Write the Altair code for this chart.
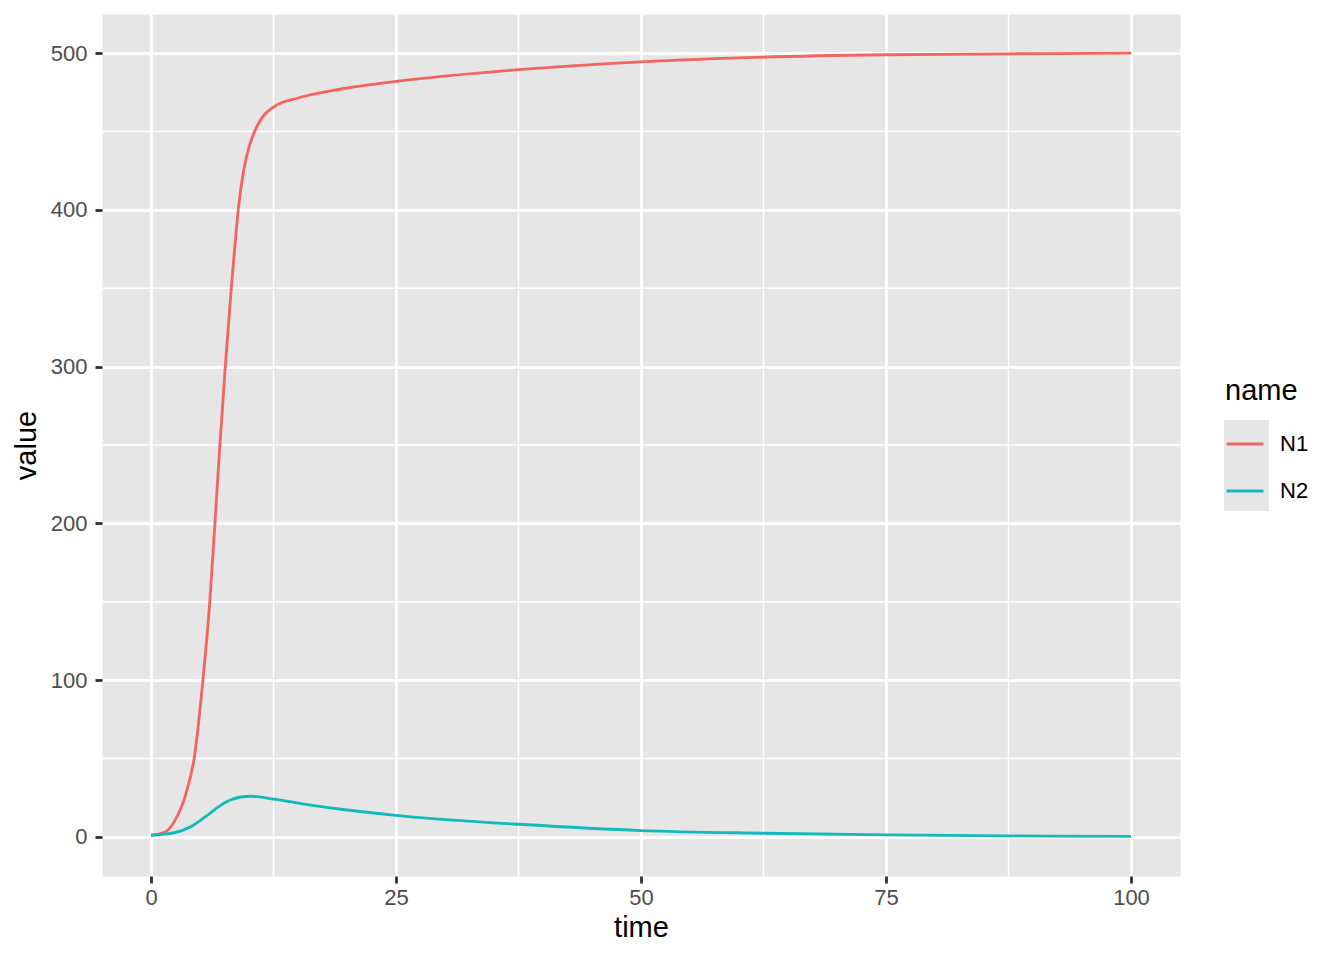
import altair as alt
import pandas as pd

# ---- data ----
n1_time = [0, 1.5, 2.4, 3.57, 4.4, 5.3, 6.0, 6.52, 7.03, 7.58, 8.19, 8.7, 8.9, 9.45, 10.0, 10.5, 11.4, 12.6, 15.0, 19.3, 25, 37.5, 50, 62.5, 75, 87.5, 100]
n1_value = [1, 3.2, 10, 27.6, 50, 100, 150, 200, 250, 300, 350, 387, 400, 425, 440, 449, 459.5, 466, 471.4, 477, 482, 489.5, 494.5, 497.5, 499, 499.6, 500]
n2_time = [0, 1.0, 2.38, 4.08, 5.78, 7.47, 9.17, 10.2, 12.57, 15.97, 19.4, 25, 31.2, 37.5, 50, 62.5, 75, 87.5, 100]
n2_value = [1, 1.5, 2.6, 6.5, 13.8, 21.6, 25.4, 25.9, 24.0, 20.6, 17.6, 13.7, 10.5, 8.0, 4.0, 2.3, 1.2, 0.6, 0.3]

series_names = ["N1", "N2"]
series_colors = ["#F4655F", "#14B9BC"]

x_major = [0, 25, 50, 75, 100]
x_minor = [12.5, 37.5, 62.5, 87.5]
y_major = [0, 100, 200, 300, 400, 500]
y_minor = [50, 150, 250, 350, 450]

df = pd.DataFrame({
    "time": n1_time + n2_time,
    "value": n1_value + n2_value,
    "name": ["N1"] * len(n1_time) + ["N2"] * len(n2_time),
})

FONT = "Liberation Sans"
PANEL = "#E6E6E6"
xscale = alt.Scale(domain=[-5, 105], nice=False, zero=False)
yscale = alt.Scale(domain=[-25, 525], nice=False, zero=False)

minor_x = alt.Chart(pd.DataFrame({"time": x_minor})).mark_rule(
    color="white", strokeWidth=1.42
).encode(x=alt.X("time:Q", scale=xscale))

minor_y = alt.Chart(pd.DataFrame({"value": y_minor})).mark_rule(
    color="white", strokeWidth=1.42
).encode(y=alt.Y("value:Q", scale=yscale))

lines = alt.Chart(df).mark_line(strokeWidth=2.84, interpolate="monotone").encode(
    x=alt.X("time:Q", scale=xscale, title="time",
            axis=alt.Axis(values=x_major, labelPadding=4, titlePadding=5, format="d")),
    y=alt.Y("value:Q", scale=yscale, title="value",
            axis=alt.Axis(values=y_major, labelPadding=8, titlePadding=9, format="d")),
    color=alt.Color("name:N",
                    scale=alt.Scale(domain=series_names, range=series_colors),
                    legend=alt.Legend(title="name", orient="none", legendX=1123, legendY=363,
                                      symbolType="stroke", symbolSize=1369,
                                      symbolStrokeWidth=2.84, padding=0, rowPadding=16,
                                      titlePadding=18, labelOffset=15)),
    detail="name:N",
)

key_bg = alt.Chart(pd.DataFrame({"k": [0]})).mark_rect(color=PANEL).encode(
    x=alt.value(1122), x2=alt.value(1167), y=alt.value(406), y2=alt.value(497)
)

chart = alt.layer(minor_x, minor_y, key_bg, lines).properties(
    width=1078, height=862,
    background="white",
    autosize=alt.AutoSizeParams(type="none"),
    padding={"left": 94, "top": 6, "right": 156, "bottom": 76},
).configure_view(
    fill=PANEL, stroke="transparent"
).configure_axis(
    domain=False,
    grid=True, gridColor="white", gridWidth=2.84,
    tickColor="#333333", tickSize=7, tickWidth=2.84,
    labelFont=FONT, labelFontSize=22, labelColor="#4D4D4D",
    titleFont=FONT, titleFontSize=29, titleColor="black", titleFontWeight="normal",
).configure_legend(
    titleFont=FONT, titleFontSize=29, titleFontWeight="normal", titleColor="black",
    labelFont=FONT, labelFontSize=22, labelColor="black",
)

chart.save("out.html", embed_options={"renderer": "svg", "actions": False})
